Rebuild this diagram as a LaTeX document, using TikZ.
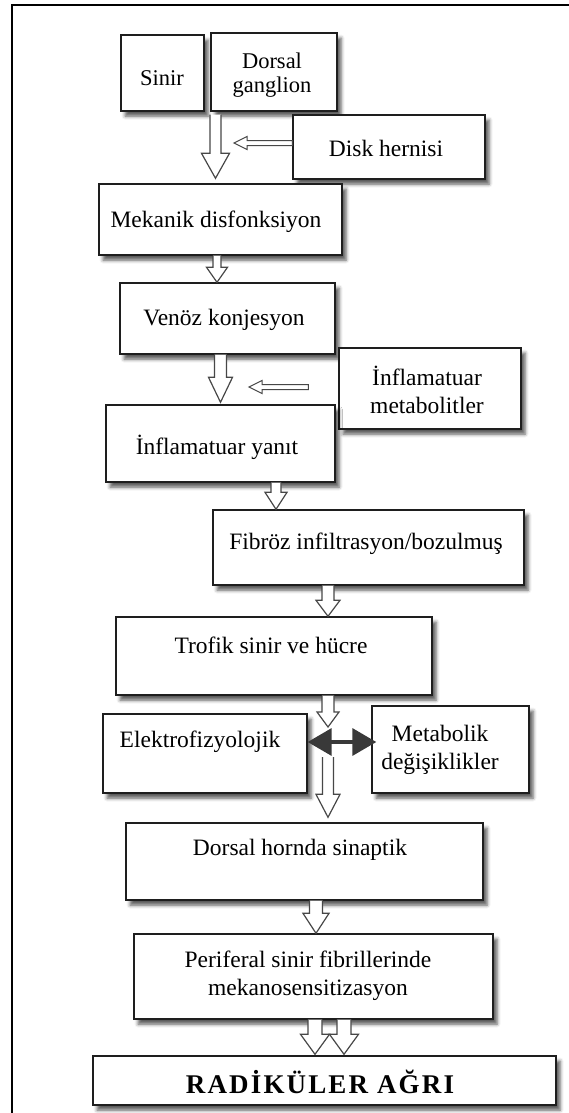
\documentclass[tikz,border=0pt]{standalone}
\usepackage{fontspec}
\setmainfont{Liberation Serif}
\newfontfamily\radfont[LetterSpace=8]{Liberation Serif}
\usetikzlibrary{calc,arrows.meta,shadows.blur}
\definecolor{edge}{HTML}{1E1E1E}
\definecolor{arrowgray}{HTML}{474747}
\tikzset{
  frame/.style={line width=1.3pt, draw=black},
  box/.style={draw=edge, line width=1.4pt, fill=white, inner sep=0pt,
    blur shadow={shadow xshift=4pt, shadow yshift=-5pt, shadow blur radius=3.5pt, shadow opacity=65}},
  txt/.style={inner sep=0pt, align=center, font=\fontsize{23.5}{28}\selectfont},
  stxt/.style={inner sep=0pt, align=center, font=\fontsize{22.5}{23.5}\selectfont},
  hollow/.style={draw=arrowgray, line width=1.2pt, fill=white, line join=miter},
  barr/.style n args={3}{to path={let \p1=(\tikztostart), \p2=(\tikztotarget) in
     (\x1-#1,\y1) -- (\x1-#1,\y2+#3) -- (\x1-#2,\y2+#3) -- (\x1,\y2) -- (\x1+#2,\y2+#3) -- (\x1+#1,\y2+#3) -- (\x1+#1,\y1)}},
  sarr/.style={to path={let \p1=(\tikztostart), \p2=(\tikztotarget) in
     (\x1,\y1+2.5pt) -- (\x2+13pt,\y1+2.5pt) -- (\x2+13pt,\y1+6.5pt) -- (\x2,\y1) -- (\x2+13pt,\y1-6.5pt) -- (\x2+13pt,\y1-2.5pt) -- (\x1,\y1-2.5pt) -- cycle}},
  dbl/.style={draw=arrowgray!80!black, line width=3.5pt,
     {Triangle[length=24pt,width=27pt]}-{Triangle[length=24pt,width=27pt]}},
}
\begin{document}
\begin{tikzpicture}[x=1pt,y=-1pt]
\useasboundingbox (0,0) rectangle (569,1113);
% outer frame (top and left only)
\draw[frame] (11,5) -- (569,5);
\draw[frame] (12,4.4) -- (12,1113);

% boxes
\node[box, minimum width=83pt, minimum height=76pt] (sin) at (162.5,73) {};
\node[stxt] (sinT) at (162,78) {Sinir};
\node[box, minimum width=126pt, minimum height=78pt] (dor) at (274,72) {};
\node[stxt] (dorT) at (272,75) {Dorsal\\ganglion};
\node[box, minimum width=192pt, minimum height=64pt] (disk) at (389,147) {};
\node[txt] (diskT) at (386,148) {Disk hernisi};

\node[box, minimum width=243pt, minimum height=71pt] (mek) at (220.5,219.5) {};
\node[txt] (mekT) at (216,222) {Mekanik disfonksiyon};

\node[box, minimum width=215pt, minimum height=71pt] (ven) at (227.5,318.5) {};
\node[txt] (venT) at (224,320) {Venöz konjesyon};

\node[box, minimum width=182pt, minimum height=81pt] (infmet) at (430,388.5) {};
\node[txt] (infmetT) at (427,390) {İnflamatuar\\metabolitler};

\node[box, minimum width=229pt, minimum height=77pt] (yan) at (220.5,443.5) {};
\node[txt] (yanT) at (217,447) {İnflamatuar yanıt};

\node[box, minimum width=311pt, minimum height=75pt] (fib) at (368.5,547.5) {};
\node[txt] (fibT) at (366,544) {Fibröz infiltrasyon/bozulmuş};

\node[box, minimum width=316pt, minimum height=78pt] (trof) at (274,656) {};
\node[txt] (trofT) at (271,645) {Trofik sinir ve hücre};

\node[box, minimum width=204pt, minimum height=79pt] (elek) at (205,753.5) {};
\node[txt] (elekT) at (200,742) {Elektrofizyolojik};

\node[box, minimum width=157pt, minimum height=87pt] (meta) at (450.5,749.5) {};
\node[txt] (metaT) at (440,750) {Metabolik\\değişiklikler};

\node[box, minimum width=357pt, minimum height=77pt] (dh) at (304.5,861.5) {};
\node[txt] (dhT) at (300,850) {Dorsal hornda sinaptik};

\node[box, minimum width=359pt, minimum height=85pt] (per) at (313.5,976.5) {};
\node[txt] (perT) at (308,976) {Periferal sinir fibrillerinde\\mekanosensitizasyon};

\node[box, minimum width=463pt, minimum height=49pt] (rad) at (324.5,1080.5) {};
\node[inner sep=0pt, font=\fontsize{27}{30}\selectfont\radfont\bfseries] (radT) at (320,1082) {RADİKÜLER AĞRI};

% hollow block arrows
\draw[hollow] ($(215.5,0 |- dor.south)+(0,3)$) to[barr={5.5pt}{14pt}{25pt}] ($(215.5,0 |- mek.north)+(0,-5)$);
\draw[hollow] (217,0 |- mek.south) to[barr={4pt}{10.5pt}{15pt}] (217,0 |- ven.north);
\draw[hollow] (220.5,0 |- ven.south) to[barr={6pt}{12pt}{25pt}] ($(220.5,0 |- yan.north)+(0,-2)$);
\draw[hollow] (276,0 |- yan.south) to[barr={5pt}{11pt}{17pt}] (276,0 |- fib.north);
\draw[hollow] (328,0 |- fib.south) to[barr={6pt}{12pt}{16pt}] (328,0 |- trof.north);
\coordinate (midtop) at (328,727);
\draw[hollow] (328,0 |- trof.south) to[barr={6pt}{11pt}{15pt}] (midtop);
\coordinate (midbot) at (328,757);
\draw[hollow] (midbot) to[barr={5.5pt}{12pt}{23pt}] ($(328,0 |- dh.north)+(0,-5)$);
\draw[hollow] (316,0 |- dh.south) to[barr={6.5pt}{13pt}{20pt}] (316,0 |- per.north);
\draw[hollow] (315,0 |- per.south) to[barr={7pt}{14.5pt}{20pt}] ($(315,0 |- rad.north)+(0,-1)$);
\draw[hollow] (344,0 |- per.south) to[barr={7pt}{14.5pt}{20pt}] ($(344,0 |- rad.north)+(0,-1)$);

% thin side arrows
\draw[hollow, line width=1pt] ($(disk.west)+(0,-4)$) to[sarr] (234,0 |- disk.west);
\coordinate (s2a) at ($(infmet.west)+(-30,-1.5)$);
\coordinate (s2b) at (249,387);
\draw[hollow, line width=1pt] (s2a) to[sarr] (s2b);

% double-headed arrow
\draw[dbl] (elek.east |- 0,742) -- ($(meta.west |- 0,742)+(5,0)$);
\end{tikzpicture}
\end{document}
